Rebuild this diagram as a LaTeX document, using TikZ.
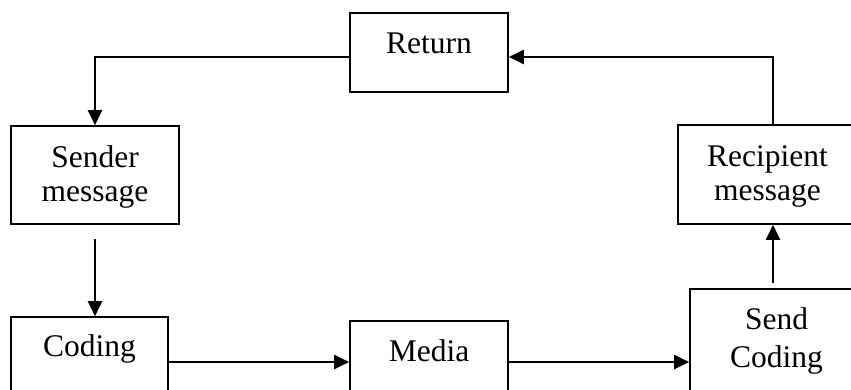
\documentclass[tikz,border=0pt]{standalone}
\usepackage{fontspec}
\setmainfont{Liberation Serif}
\usetikzlibrary{arrows.meta}
\begin{document}
\begin{tikzpicture}[x=1pt,y=-1pt,
  box/.style={draw,line width=1.6pt,rectangle,inner sep=0pt},
  lbl/.style={font=\fontsize{31.5}{34}\selectfont,inner sep=0pt,anchor=base,align=center},
  arr/.style={line width=2pt,-{Triangle[length=15pt,width=14pt]}}]
\clip (0,0) rectangle (851,389);
% boxes
\node[box,minimum width=158pt,minimum height=79pt]  (ret) at (429,52.5) {};
\node[box,minimum width=168pt,minimum height=98pt]  (snd) at (95,175) {};
\node[box,minimum width=179pt,minimum height=99pt]  (rec) at (767.5,174.5) {};
\node[box,minimum width=157pt,minimum height=103pt] (cod) at (89.5,368.5) {};
\node[box,minimum width=158pt,minimum height=99pt]  (med) at (429,370.5) {};
\node[box,minimum width=173pt,minimum height=131pt] (sc)  at (776.5,354.5) {};
% labels (base anchor sits on the last line)
\node[lbl] (retT) at (429,53) {Return};
\node[lbl] (sndT) at (95,201) {Sender\\message};
\node[lbl] (recT) at (767.5,200) {Recipient\\message};
\node[lbl] (codT) at (89.5,356) {Coding};
\node[lbl] (medT) at (429,361) {Media};
\node[lbl] (scT)  at (776.5,367) {Send\\[4pt]Coding};
% connector anchors on the right-hand column
\coordinate (rx) at ([xshift=5.5pt]rec.south);
\coordinate (rn) at ([xshift=5.5pt]rec.north);
% connectors
\draw[arr] ([yshift=-4.5pt]ret.west) -| (snd.north);
\draw[arr,shorten <=14pt] (snd.south) -- (snd.south |- cod.north);
\draw[arr] (cod.east |- 0,362) -- (med.west |- 0,362);
\draw[arr] (med.east |- 0,362) -- (sc.west |- 0,362);
\draw[arr,shorten <=5pt] (sc.north -| rx) -- (rx);
\draw[arr] (rn) |- ([yshift=-4.5pt]ret.east);
\end{tikzpicture}
\end{document}
